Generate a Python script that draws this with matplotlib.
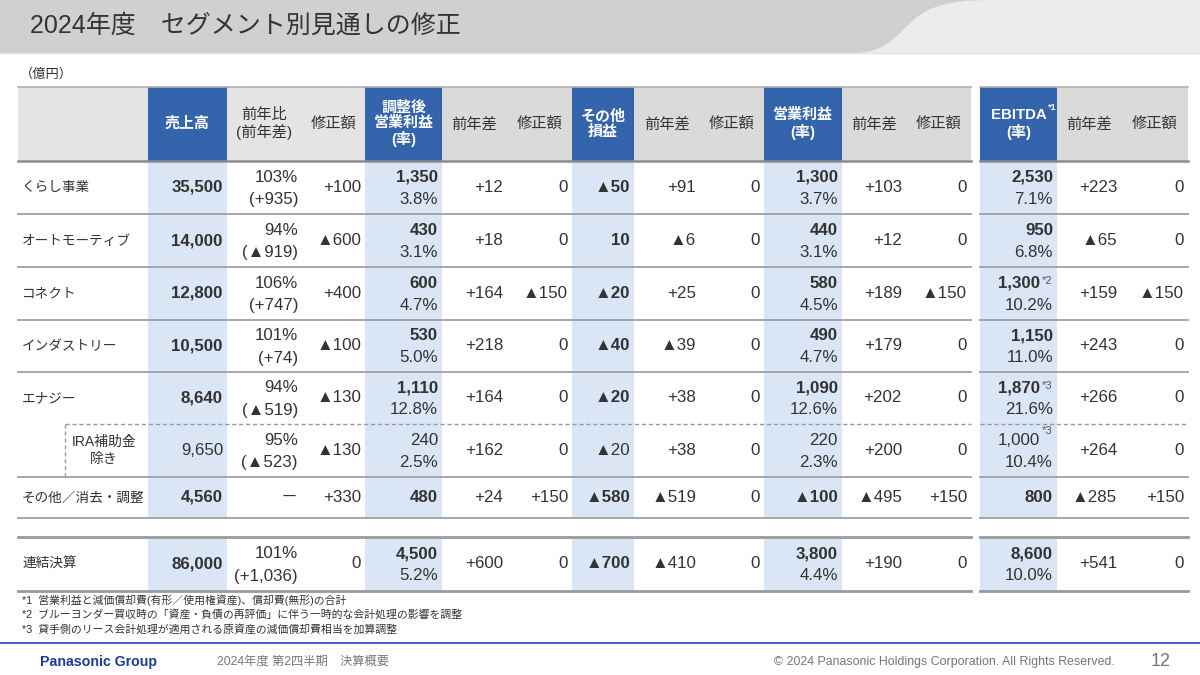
import matplotlib
matplotlib.use('Agg')
import matplotlib.pyplot as plt
import matplotlib.patches as patches

plt.rcParams['font.family'] = ['Liberation Sans', 'Noto Sans CJK JP', 'DejaVu Sans']

# table data (億円)
segments = ['くらし事業', 'オートモーティブ', 'コネクト', 'インダストリー', 'エナジー',
            'IRA補助金\n除き', 'その他／消去・調整', '連結決算']
sales = ['35,500', '14,000', '12,800', '10,500', '8,640', '9,650', '4,560', '86,000']
sales_ratio = ['103%', '94%', '106%', '101%', '94%', '95%', '', '101%']
sales_diff = ['(+935)', '(▲919)', '(+747)', '(+74)', '(▲519)', '(▲523)', '－', '(+1,036)']
sales_rev = ['+100', '▲600', '+400', '▲100', '▲130', '▲130', '+330', '0']
adj_op = ['1,350', '430', '600', '530', '1,110', '240', '480', '4,500']
adj_op_rate = ['3.8%', '3.1%', '4.7%', '5.0%', '12.8%', '2.5%', '', '5.2%']
adj_op_yoy = ['+12', '+18', '+164', '+218', '+164', '+162', '+24', '+600']
adj_op_rev = ['0', '0', '▲150', '0', '0', '0', '+150', '0']
other_pl = ['▲50', '10', '▲20', '▲40', '▲20', '▲20', '▲580', '▲700']
other_yoy = ['+91', '▲6', '+25', '▲39', '+38', '+38', '▲519', '▲410']
other_rev = ['0', '0', '0', '0', '0', '0', '0', '0']
op = ['1,300', '440', '580', '490', '1,090', '220', '▲100', '3,800']
op_rate = ['3.7%', '3.1%', '4.5%', '4.7%', '12.6%', '2.3%', '', '4.4%']
op_yoy = ['+103', '+12', '+189', '+179', '+202', '+200', '▲495', '+190']
op_rev = ['0', '0', '▲150', '0', '0', '0', '+150', '0']
ebitda = ['2,530', '950', '1,300', '1,150', '1,870', '1,000', '800', '8,600']
ebitda_note = ['', '', '*2', '', '*3', '*3', '', '']
ebitda_rate = ['7.1%', '6.8%', '10.2%', '11.0%', '21.6%', '10.4%', '', '10.0%']
ebitda_yoy = ['+223', '▲65', '+159', '+243', '+266', '+264', '▲285', '+541']
ebitda_rev = ['0', '0', '▲150', '0', '0', '0', '+150', '0']

headers = ['売上高', '前年比\n(前年差)', '修正額', '調整後\n営業利益\n(率)', '前年差', '修正額',
           'その他\n損益', '前年差', '修正額', '営業利益\n(率)', '前年差', '修正額',
           'EBITDA\n(率)', '前年差', '修正額']

footnotes = ['*1  営業利益と減価償却費(有形／使用権資産)、償却費(無形)の合計',
             '*2  ブルーヨンダー買収時の「資産・負債の再評価」に伴う一時的な会計処理の影響を調整',
             '*3  貸手側のリース会計処理が適用される原資産の減価償却費相当を加算調整']

# layout (pixels)
col_edges = [148, 227, 302, 365, 442, 507, 572, 634, 700, 764, 842, 906, 971,
             980, 1057, 1121, 1188]
col_cells = [(col_edges[i], col_edges[i + 1]) for i in range(12)] + \
            [(col_edges[i], col_edges[i + 1]) for i in range(13, 16)]
blue_cols = [0, 3, 6, 9, 12]
row_top = [161, 214, 267, 320, 372, 424, 477, 537]
row_bot = [214, 267, 320, 372, 424, 477, 518, 591]

BLUE = '#3464ac'
LBLUE = '#dae6f6'
TXT = '#333333'
LINE = '#a0a0a0'
NUM_FS = 12.2

fig = plt.figure(figsize=(12, 6.75), dpi=100)
ax = fig.add_axes([0, 0, 1, 1])
ax.set_xlim(0, 1200)
ax.set_ylim(675, 0)
ax.axis('off')

# title band with the curved edge
ax.add_patch(patches.Rectangle((0, 0), 1200, 53, facecolor='#ececec', edgecolor='none'))
curve_x = [985, 965, 945, 930, 918, 907, 896, 884, 872, 858]
curve_y = [0, 1, 4, 9, 16, 26, 37, 46, 51, 53]
ax.fill([0] + curve_x + [0], [0] + curve_y + [53], color='#d0d0d0', lw=0)
ax.plot([0, 1200], [53, 53], color='#e2e2e2', lw=1)
ax.text(30, 26, '2024年度　セグメント別見通しの修正', fontsize=18, color='#333333',
        va='center', ha='left')
ax.text(20, 74, '（億円）', fontsize=9.5, color=TXT, va='center')

# header row
ax.add_patch(patches.Rectangle((18, 87), 130, 74, facecolor='#e4e4e4', edgecolor='none'))
for j, (x0, x1) in enumerate(col_cells):
    fc = BLUE if j in blue_cols else ('#e4e4e4' if j in (1, 2) else '#dadada')
    ax.add_patch(patches.Rectangle((x0, 87), x1 - x0, 74, facecolor=fc, edgecolor='none'))
    if j in blue_cols:
        ax.text((x0 + x1) / 2, 124, headers[j], color='white', fontsize=10.8, weight='bold',
                ha='center', va='center', linespacing=1.1)
    else:
        ax.text((x0 + x1) / 2, 124, headers[j], color=TXT, fontsize=11,
                ha='center', va='center', linespacing=1.1)
ax.text(1048, 107, '*1', color='white', fontsize=6.5, weight='bold', ha='left', va='center')

# blue column backgrounds
for j in blue_cols:
    x0, x1 = col_cells[j]
    ax.add_patch(patches.Rectangle((x0, 161), x1 - x0, 518 - 161, facecolor=LBLUE, edgecolor='none'))
    ax.add_patch(patches.Rectangle((x0, 537), x1 - x0, 591 - 537, facecolor=LBLUE, edgecolor='none'))

# horizontal rules
for xa, xb in [(18, 971), (980, 1188)]:
    ax.plot([xa, xb], [87, 87], color='#b0b0b0', lw=1.2)
    ax.plot([xa, xb], [161, 161], color='#8c8c8c', lw=1.8)
    for y in [214, 267, 320, 372, 518]:
        ax.plot([xa, xb], [y, y], color=LINE, lw=1.3)
    ax.plot([xa, xb], [537, 537], color='#999999', lw=2.0)
    ax.plot([xa, xb], [591, 591], color='#999999', lw=2.0)
    ax.plot([xa if xa > 18 else 65, xb], [424, 424], color='#999999', lw=1.0, ls=(0, (3, 2)))
ax.plot([18, 971], [477, 477], color=LINE, lw=1.3)
ax.plot([980, 1188], [477, 477], color=LINE, lw=1.3)
ax.plot([65, 65], [424, 477], color='#999999', lw=1.0, ls=(0, (3, 2)))


def cell(j, i, top, bottom='', bold=False, note=''):
    x0, x1 = col_cells[j]
    yc = (row_top[i] + row_bot[i]) / 2
    xr = x1 - 4
    w = 'bold' if bold else 'normal'
    if note:
        xr -= 13
    if bottom:
        ax.text(xr, yc - 10, top, ha='right', va='center', fontsize=NUM_FS, color=TXT, weight=w)
        ax.text(x1 - 4, yc + 12, bottom, ha='right', va='center', fontsize=NUM_FS, color=TXT)
    else:
        ax.text(xr, yc, top, ha='right', va='center', fontsize=NUM_FS, color=TXT, weight=w)
    if note:
        ny = yc - 12 if i != 5 else yc - 20
        ax.text(xr + 2, ny, note, ha='left', va='center', fontsize=8, color='#555555')


for i, seg in enumerate(segments):
    yc = (row_top[i] + row_bot[i]) / 2
    if i == 5:
        ax.text(104, yc, seg, ha='center', va='center', fontsize=10, color=TXT, linespacing=1.3)
    else:
        ax.text(22, yc, seg, ha='left', va='center', fontsize=9.8, color=TXT)
    main = i != 5
    cell(0, i, sales[i], bold=main)
    if sales_ratio[i]:
        cell(1, i, sales_ratio[i], sales_diff[i])
    else:
        cell(1, i, sales_diff[i])
    cell(2, i, sales_rev[i])
    cell(3, i, adj_op[i], adj_op_rate[i], bold=main)
    cell(4, i, adj_op_yoy[i])
    cell(5, i, adj_op_rev[i])
    cell(6, i, other_pl[i], bold=main)
    cell(7, i, other_yoy[i])
    cell(8, i, other_rev[i])
    cell(9, i, op[i], op_rate[i], bold=main)
    cell(10, i, op_yoy[i])
    cell(11, i, op_rev[i])
    cell(12, i, ebitda[i], ebitda_rate[i], bold=main, note=ebitda_note[i])
    cell(13, i, ebitda_yoy[i])
    cell(14, i, ebitda_rev[i])

# footnotes
for k, fn in enumerate(footnotes):
    ax.text(22, 600 + k * 14.5, fn, fontsize=7.8, color=TXT, va='center', ha='left')

# footer
ax.plot([0, 1200], [643, 643], color='#4e62c8', lw=1.5)
ax.text(40, 662, 'Panasonic Group', fontsize=10.2, weight='bold', color='#1a3d96', va='center')
ax.text(217, 662, '2024年度 第2四半期　決算概要', fontsize=8.8, color='#777777', va='center')
ax.text(1115, 662, '© 2024 Panasonic Holdings Corporation. All Rights Reserved.', fontsize=8.9,
        color='#777777', va='center', ha='right')
ax.text(1161, 662, '12', fontsize=13, color='#777777', va='center', ha='center')

fig.savefig('out.png', dpi=100, facecolor='white')
plt.close(fig)
